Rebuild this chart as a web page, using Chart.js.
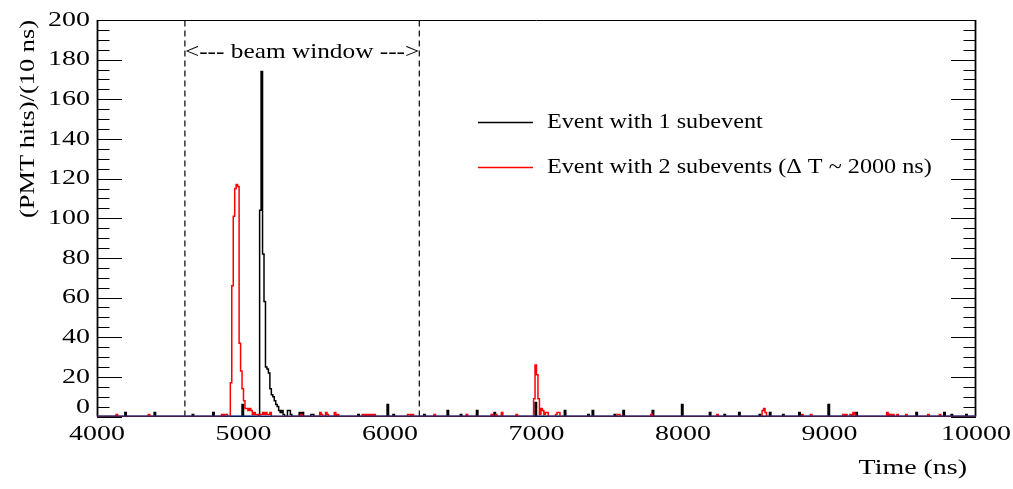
<!DOCTYPE html>
<html>
<head>
<meta charset="utf-8">
<script src="https://cdn.jsdelivr.net/npm/chart.js@4.4.0/dist/chart.umd.min.js"></script>
<style>
  html, body { margin: 0; padding: 0; background: #fff; }
  #wrap { width: 1013px; height: 489px; position: relative; }
</style>
</head>
<body>
<div id="wrap"><canvas id="c"></canvas></div>
<script>
// Readout window and histogram binning (10 ns bins)
const timeRange = [4000, 10000];
const binWidth = 10;
const hitRange = [0, 200];

// Event with 1 subevent: non-empty bins (bin low edge in ns) and PMT hits per bin
const singleBinTimes = [4190, 4390, 4650, 4790, 4990,
  5110, 5120, 5130, 5140, 5150, 5160, 5170, 5180, 5190, 5200, 5210, 5220, 5230, 5240, 5250, 5260, 5270,
  5300, 5310, 5320, 5380, 5390, 5400, 5460, 5470, 5780, 5980, 6020, 6230, 6390, 6480, 6590, 6710, 6990,
  7190, 7350, 7380, 7530, 7590, 7790, 7990, 8180, 8280, 8380, 8520, 8590, 8680, 8790, 8990, 9180, 9400,
  9590, 9780, 9830, 9930];
const singleBinHits = [2, 2, 1, 2, 6,
  104, 174, 82, 58, 25, 24, 22, 14, 11, 10, 8, 6, 5, 3, 2, 3, 1,
  3, 3, 1, 2, 1, 2, 1, 1, 1, 6, 1, 1, 3, 1, 3, 2, 7,
  3, 1, 3, 1, 3, 3, 6, 2, 1, 2, 1, 2, 1, 2, 6, 2, 1,
  2, 2, 1, 1];

// Event with 2 subevents (second burst about 2000 ns after the first)
const doubleBinTimes = [4130, 4350, 4850, 4870, 4880,
  4910, 4920, 4930, 4940, 4950, 4960, 4970, 4980, 4990, 5000, 5010, 5020, 5030, 5040, 5050, 5060, 5070,
  5080, 5090, 5110, 5120, 5130, 5140, 5150, 5160, 5170, 5180, 5390, 5520, 5530, 5560, 5570, 5620, 5640,
  5810, 5830, 5850, 5870, 5890, 6120, 6130, 6150, 6300, 6520, 6690, 6720, 6760, 6860,
  6980, 6990, 7000, 7010, 7020, 7030, 7040, 7050, 7060, 7070, 7130, 7140, 7150,
  7550, 7560, 7780, 8230, 8540, 8550, 8560, 8810, 8870, 9090, 9110, 9140, 9160, 9170,
  9390, 9410, 9430, 9460, 9520, 9670, 9750];
const doubleBinHits = [1, 1, 1, 1, 1,
  17, 66, 101, 115, 117, 116, 37, 23, 14, 8, 4, 4, 3, 4, 3, 1, 2,
  1, 1, 1, 1, 2, 1, 2, 1, 1, 2, 1, 2, 1, 2, 1, 2, 1,
  1, 1, 1, 1, 1, 1, 1, 1, 1, 1, 1, 1, 2, 1,
  9, 26, 21, 9, 1, 4, 3, 1, 2, 2, 1, 2, 2,
  1, 1, 1, 1, 3, 4, 2, 1, 1, 1, 1, 1, 2, 1,
  2, 1, 1, 1, 1, 1, 1];

// Beam window edges (ns)
const beamWindow = [4600, 6200];

// Text
const seriesLabels = ['Event with 1 subevent', 'Event with 2 subevents (\u0394 T ~ 2000 ns)'];
const seriesColors = ['#000000', '#ff0000'];
const xTitle = 'Time (ns)';
const yTitle = '(PMT hits)/(10 ns)';
const beamLabel = '<--- beam window --->';
const xTickStep = 1000;
const yLabelStep = 20;
const yMinorStep = 5;

// Expand sparse bins into a full step histogram (empty bins hold 0 hits)
function histogramPoints(times, hits) {
  const byBin = new Map(times.map((t, i) => [t, hits[i]]));
  const pts = [];
  for (let t = timeRange[0]; t < timeRange[1]; t += binWidth) {
    pts.push({ x: t, y: byBin.get(t) || 0 });
  }
  pts.push({ x: timeRange[1], y: 0 });
  return pts;
}

const SERIF = '"Liberation Serif", "Times New Roman", serif';

function stretchedText(ctx, text, x, y, o) {
  ctx.save();
  ctx.translate(x, y);
  if (o.rotate) ctx.rotate(o.rotate);
  ctx.scale(o.sx || 1, 1);
  ctx.font = o.font;
  ctx.fillStyle = '#000';
  ctx.textAlign = o.align || 'left';
  ctx.textBaseline = o.baseline || 'middle';
  ctx.fillText(text, 0, 0);
  ctx.restore();
}

// Frame and inward tick marks, drawn underneath the histograms
const framePlugin = {
  id: 'frame',
  beforeDatasetsDraw(chart) {
    const { ctx, chartArea: ca, scales } = chart;
    const y = scales.y;
    ctx.save();
    ctx.strokeStyle = '#000';
    ctx.lineWidth = 1;
    ctx.beginPath();
    ctx.moveTo(ca.left, ca.top + 0.5); ctx.lineTo(ca.right, ca.top + 0.5);
    ctx.moveTo(ca.left, ca.bottom); ctx.lineTo(ca.right, ca.bottom);
    ctx.stroke();
    ctx.lineWidth = 1.8;
    ctx.beginPath();
    ctx.moveTo(ca.left + 0.5, ca.top); ctx.lineTo(ca.left + 0.5, ca.bottom);
    ctx.moveTo(ca.right - 0.5, ca.top); ctx.lineTo(ca.right - 0.5, ca.bottom);
    ctx.stroke();
    ctx.lineWidth = 1;
    ctx.beginPath();
    y.ticks.forEach(t => {
      const py = Math.round(y.getPixelForValue(t.value)) + 0.5;
      const len = t.value % yLabelStep === 0 ? 25 : 12.5;
      ctx.moveTo(ca.left, py); ctx.lineTo(ca.left + len, py);
      ctx.moveTo(ca.right, py); ctx.lineTo(ca.right - len, py);
    });
    ctx.stroke();
    ctx.restore();
  },
  afterDraw(chart) {
    const { ctx, chartArea: ca, scales } = chart;
    const x = scales.x, y = scales.y;
    const axisFont = '22px ' + SERIF;
    // y tick labels (the origin label sits a little higher, clear of the time labels)
    y.ticks.forEach(t => {
      if (t.value % yLabelStep !== 0) return;
      const lift = t.value === hitRange[0] ? 9 : 0;
      stretchedText(ctx, String(t.value), ca.left - 7, y.getPixelForValue(t.value) - lift,
        { font: axisFont, align: 'right', sx: 1.27 });
    });
    // x tick labels
    x.ticks.forEach(t => {
      stretchedText(ctx, String(t.value), x.getPixelForValue(t.value), ca.bottom + 7,
        { font: axisFont, align: 'center', baseline: 'top', sx: 1.27 });
    });
    // axis titles
    stretchedText(ctx, xTitle, ca.right - 9, 468, { font: axisFont, align: 'right', sx: 1.27 });
    stretchedText(ctx, yTitle, 28, ca.top, { font: axisFont, align: 'right', sx: 1.2, rotate: -Math.PI / 2 });
    // beam window label
    const mid = (beamWindow[0] + beamWindow[1]) / 2;
    stretchedText(ctx, beamLabel, x.getPixelForValue(mid), y.getPixelForValue(184),
      { font: '22px ' + SERIF, align: 'center', sx: 1.15 });
    // legend
    const w = ca.right - ca.left, h = ca.bottom - ca.top;
    const lx = ca.left + 0.4334 * w;
    const ly = ca.top + 0.2565 * h;
    seriesLabels.forEach((label, i) => {
      const py = Math.round(ly + i * 45) + 0.5;
      ctx.save();
      ctx.strokeStyle = seriesColors[i];
      ctx.lineWidth = 1.5;
      ctx.beginPath(); ctx.moveTo(lx, py); ctx.lineTo(lx + 55, py); ctx.stroke();
      ctx.restore();
      stretchedText(ctx, label, lx + 69, py, { font: '22px ' + SERIF, align: 'left', sx: 1.1 });
    });
  }
};

const datasets = [
  { label: 'baseline', data: [{ x: timeRange[0], y: 0 }, { x: timeRange[1], y: 0 }],
    borderColor: '#0a37a0', borderWidth: 2, order: 0 },
  { label: seriesLabels[1], data: histogramPoints(doubleBinTimes, doubleBinHits),
    borderColor: seriesColors[1], borderWidth: 1.5, stepped: true, order: 1 },
  { label: seriesLabels[0], data: histogramPoints(singleBinTimes, singleBinHits),
    borderColor: seriesColors[0], borderWidth: 1.5, stepped: true, order: 2 },
  ...beamWindow.map(t => ({
    label: 'beam window edge', data: [{ x: t, y: hitRange[0] }, { x: t, y: hitRange[1] }],
    borderColor: '#000000', borderWidth: 1.2, borderDash: [6, 4], order: 3
  }))
];

new Chart(document.getElementById('c'), {
  type: 'line',
  data: { datasets },
  options: {
    responsive: true,
    maintainAspectRatio: false,
    animation: false,
    events: [],
    parsing: false,
    elements: { point: { radius: 0 }, line: { tension: 0, borderJoinStyle: 'miter' } },
    layout: { padding: { top: 20, right: 37, left: 0, bottom: 0 } },
    plugins: { legend: { display: false }, tooltip: { enabled: false } },
    scales: {
      x: {
        type: 'linear', min: timeRange[0], max: timeRange[1],
        ticks: { display: false, stepSize: xTickStep },
        grid: { display: false }, border: { display: false },
        afterFit(s) { s.height = 72.5; }
      },
      y: {
        type: 'linear', min: hitRange[0], max: hitRange[1],
        ticks: { display: false, stepSize: yMinorStep },
        grid: { display: false }, border: { display: false },
        afterFit(s) { s.width = 97; }
      }
    }
  },
  plugins: [framePlugin]
});
</script>
</body>
</html>
